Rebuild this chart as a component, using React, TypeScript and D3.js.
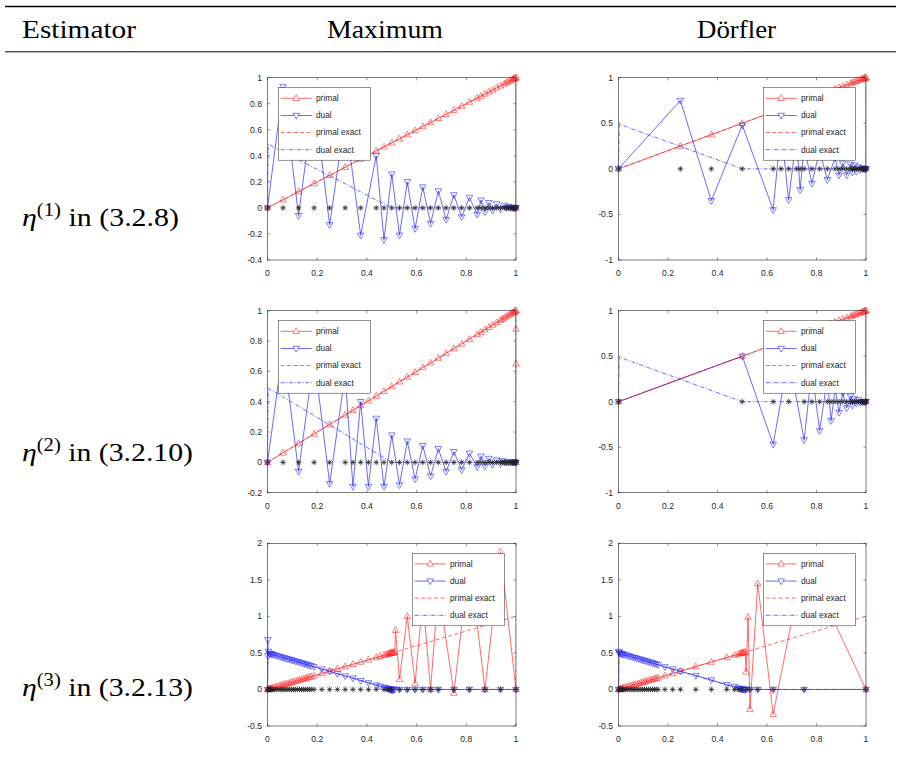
import React from 'react';
import * as d3 from 'd3';

// ---------------- data ----------------
const xTicks = [0, 0.2, 0.4, 0.6, 0.8, 1];
const yTicksA = [-0.4, -0.2, 0, 0.2, 0.4, 0.6, 0.8, 1];
const yTicksB = [-1, -0.5, 0, 0.5, 1];
const yTicksC = [-0.2, 0, 0.2, 0.4, 0.6, 0.8, 1];
const yTicksE = [-0.5, 0, 0.5, 1, 1.5, 2];

const headers = ['Estimator', 'Maximum', 'Dörfler'];
const rowSup = ['(1)', '(2)', '(3)'];
const rowRef = [' in (3.2.8)', ' in (3.2.10)', ' in (3.2.13)'];
const legendLabels = ['primal', 'dual', 'primal exact', 'dual exact'];

const primalExactX = [0, 1, 1];
const primalExactY = [0, 1, 0];
const dualExactX = [0, 0.003, 0.5, 1];
const dualExactY = [0, 0.49, 0, 1e-9];

// Panel A: Maximum, eta(1)
const meshA = [0, 0.0625, 0.125, 0.1875, 0.25, 0.3125, 0.375, 0.4375, 0.46875, 0.5, 0.53125, 0.5625, 0.59375, 0.625, 0.65625, 0.6875, 0.71875, 0.75, 0.78125, 0.8125, 0.84375, 0.859, 0.875, 0.891, 0.906, 0.922, 0.9375, 0.953, 0.961, 0.969, 0.977, 0.984, 0.988, 0.992, 0.996, 0.998, 1];
const primalAx = [0, 0.0625, 0.125, 0.1875, 0.25, 0.3125, 0.375, 0.4375, 0.46875, 0.5, 0.53125, 0.5625, 0.59375, 0.625, 0.65625, 0.6875, 0.71875, 0.75, 0.78125, 0.8125, 0.84375, 0.859, 0.875, 0.891, 0.906, 0.922, 0.9375, 0.953, 0.961, 0.969, 0.977, 0.984, 0.988, 0.992, 0.996, 0.998, 1, 1];
const primalAy = [0, 0.0625, 0.125, 0.1875, 0.25, 0.3125, 0.375, 0.4375, 0.46875, 0.5, 0.53125, 0.5625, 0.59375, 0.625, 0.65625, 0.6875, 0.71875, 0.75, 0.78125, 0.8125, 0.84375, 0.859, 0.875, 0.891, 0.906, 0.922, 0.9375, 0.953, 0.961, 0.969, 0.977, 0.984, 0.988, 0.992, 0.996, 0.998, 1, 0];
const dualAy = [0, 0.93, -0.06, 0.85, -0.13, 0.7, -0.21, 0.4, -0.245, 0.26, -0.21, 0.2, -0.16, 0.16, -0.12, 0.13, -0.09, 0.1, -0.07, 0.08, -0.05, 0.06, -0.03, 0.04, -0.02, 0.03, -0.01, 0.02, 0, 0.01, 0, 0.005, 0, 0, 0, 0, 0];

// Panel B: Dörfler, eta(1)
const meshB = [0, 0.25, 0.375, 0.5, 0.625, 0.65625, 0.6875, 0.71875, 0.734, 0.75, 0.78125, 0.8125, 0.84375, 0.875, 0.891, 0.906, 0.922, 0.9375, 0.945, 0.953, 0.961, 0.969, 0.977, 0.984, 0.988, 0.992, 0.996, 0.998, 1];
const primalBx = [0, 0.25, 0.375, 0.5, 0.625, 0.65625, 0.6875, 0.71875, 0.734, 0.75, 0.78125, 0.8125, 0.84375, 0.875, 0.891, 0.906, 0.922, 0.9375, 0.945, 0.953, 0.961, 0.969, 0.977, 0.984, 0.988, 0.992, 0.996, 0.998, 1, 1];
const primalBy = [0, 0.25, 0.375, 0.5, 0.625, 0.65625, 0.6875, 0.71875, 0.734, 0.75, 0.78125, 0.8125, 0.84375, 0.875, 0.891, 0.906, 0.922, 0.9375, 0.945, 0.953, 0.961, 0.969, 0.977, 0.984, 0.988, 0.992, 0.996, 0.998, 1, 0];
const dualBy = [0, 0.75, -0.35, 0.48, -0.45, 0.45, -0.34, 0.35, -0.23, 0.25, -0.16, 0.2, -0.12, 0.12, -0.07, 0.06, -0.07, 0.05, -0.04, 0.04, -0.03, 0.02, -0.01, 0.01, 0, 0, 0, 0, 0];

// Panel C: Maximum, eta(2)
const meshC = [0, 0.0625, 0.125, 0.1875, 0.25, 0.3125, 0.34375, 0.375, 0.40625, 0.4375, 0.46875, 0.5, 0.53125, 0.5625, 0.59375, 0.625, 0.65625, 0.6875, 0.71875, 0.75, 0.78125, 0.8125, 0.84375, 0.859, 0.875, 0.891, 0.906, 0.922, 0.9375, 0.945, 0.953, 0.961, 0.969, 0.977, 0.984, 0.988, 0.992, 0.996, 0.998, 1];
const primalCx = [0, 0.0625, 0.125, 0.1875, 0.25, 0.3125, 0.34375, 0.375, 0.40625, 0.4375, 0.46875, 0.5, 0.53125, 0.5625, 0.59375, 0.625, 0.65625, 0.6875, 0.71875, 0.75, 0.78125, 0.8125, 0.84375, 0.859, 0.875, 0.891, 0.906, 0.922, 0.9375, 0.945, 0.953, 0.961, 0.969, 0.977, 0.984, 0.988, 0.992, 0.996, 0.998, 1, 1, 1, 1];
const primalCy = [0, 0.0625, 0.125, 0.1875, 0.25, 0.3125, 0.34375, 0.375, 0.40625, 0.4375, 0.46875, 0.5, 0.53125, 0.5625, 0.59375, 0.625, 0.65625, 0.6875, 0.71875, 0.75, 0.78125, 0.8125, 0.84375, 0.859, 0.875, 0.891, 0.906, 0.922, 0.9375, 0.945, 0.953, 0.961, 0.969, 0.977, 0.984, 0.988, 0.992, 0.996, 0.998, 1, 0.88, 0.65, 0];
const dualCy = [0, 0.75, -0.06, 0.7, -0.14, 0.58, -0.16, 0.4, -0.16, 0.29, -0.16, 0.18, -0.15, 0.14, -0.11, 0.11, -0.09, 0.09, -0.06, 0.07, -0.05, 0.06, -0.03, 0.04, -0.025, 0.025, -0.015, 0.015, -0.01, 0.01, 0, 0, 0, 0, 0, 0, 0, 0, 0, 0];

// Panel D: Dörfler, eta(2)
const meshD = [0, 0.5, 0.625, 0.6875, 0.75, 0.78125, 0.8125, 0.84375, 0.859, 0.875, 0.891, 0.906, 0.922, 0.9375, 0.945, 0.953, 0.961, 0.969, 0.977, 0.984, 0.988, 0.992, 0.996, 0.998, 1];
const primalDx = [0, 0.5, 0.625, 0.6875, 0.75, 0.78125, 0.8125, 0.84375, 0.859, 0.875, 0.891, 0.906, 0.922, 0.9375, 0.945, 0.953, 0.961, 0.969, 0.977, 0.984, 0.988, 0.992, 0.996, 0.998, 1, 1];
const primalDy = [0, 0.5, 0.625, 0.6875, 0.75, 0.78125, 0.8125, 0.84375, 0.859, 0.875, 0.891, 0.906, 0.922, 0.9375, 0.945, 0.953, 0.961, 0.969, 0.977, 0.984, 0.988, 0.992, 0.996, 0.998, 1, 0];
const dualDy = [0, 0.5, -0.47, 0.5, -0.42, 0.35, -0.32, 0.25, -0.21, 0.15, -0.12, 0.1, -0.07, 0.06, -0.04, 0.03, -0.02, 0.02, -0.01, 0, 0, 0, 0, 0, 0];

// Panel E: Maximum, eta(3)
const meshE = [0.002, 0.004, 0.008, 0.012, 0.016, 0.02, 0.027, 0.035, 0.043, 0.051, 0.059, 0.066, 0.074, 0.082, 0.09, 0.098, 0.105, 0.113, 0.121, 0.129, 0.137, 0.145, 0.152, 0.16, 0.168, 0.176, 0.1875, 0.21875, 0.25, 0.28125, 0.3125, 0.34375, 0.375, 0.40625, 0.4375, 0.46875, 0.484, 0.492, 0.5, 0.53125, 0.5625, 0.59375, 0.625, 0.65625, 0.6875, 0.75, 0.8125, 0.875, 0.9375, 1];
const primalEx = [0, 0.002, 0.004, 0.008, 0.012, 0.016, 0.02, 0.027, 0.035, 0.043, 0.051, 0.059, 0.066, 0.074, 0.082, 0.09, 0.098, 0.105, 0.113, 0.121, 0.129, 0.137, 0.145, 0.152, 0.16, 0.168, 0.176, 0.1875, 0.21875, 0.25, 0.28125, 0.3125, 0.34375, 0.375, 0.40625, 0.4375, 0.453, 0.46875, 0.477, 0.484, 0.488, 0.492, 0.496, 0.498, 0.5, 0.502, 0.504, 0.508, 0.512, 0.515, 0.53125, 0.5625, 0.59375, 0.625, 0.65625, 0.6875, 0.75, 0.8125, 0.875, 0.9375, 1];
const primalEy = [0, 0.002, 0.004, 0.008, 0.012, 0.016, 0.02, 0.027, 0.035, 0.043, 0.051, 0.059, 0.066, 0.074, 0.082, 0.09, 0.098, 0.105, 0.113, 0.121, 0.129, 0.137, 0.145, 0.152, 0.16, 0.168, 0.176, 0.1875, 0.21875, 0.25, 0.28125, 0.3125, 0.34375, 0.375, 0.40625, 0.4375, 0.453, 0.46875, 0.477, 0.484, 0.488, 0.492, 0.496, 0.498, 0.5, 0.502, 0.504, 0.508, 0.512, 0.81, 0.14, 1.0, 0.08, 1.25, 0, 1.4, -0.05, 1.8, 0, 1.88, 0];
const dualEx = [0, 0.001, 0.002, 0.004, 0.008, 0.012, 0.016, 0.02, 0.027, 0.035, 0.043, 0.051, 0.059, 0.066, 0.074, 0.082, 0.09, 0.098, 0.105, 0.113, 0.121, 0.129, 0.137, 0.145, 0.152, 0.16, 0.168, 0.176, 0.1875, 0.21875, 0.25, 0.28125, 0.3125, 0.34375, 0.375, 0.40625, 0.4375, 0.453, 0.46875, 0.477, 0.484, 0.488, 0.492, 0.496, 0.498, 0.5, 0.502, 0.504, 0.508, 0.512, 0.53125, 0.5625, 0.59375, 0.625, 0.65625, 0.6875, 0.75, 0.8125, 0.875, 0.9375, 1];
const dualEy = [0, 0.68, 0.46, 0.52, 0.49, 0.49, 0.485, 0.48, 0.473, 0.465, 0.457, 0.449, 0.441, 0.434, 0.426, 0.418, 0.41, 0.402, 0.395, 0.387, 0.379, 0.371, 0.363, 0.355, 0.348, 0.34, 0.332, 0.324, 0.31, 0.28, 0.25, 0.215, 0.185, 0.155, 0.12, 0.09, 0.06, 0.045, 0.03, 0.02, 0.012, 0.008, 0.004, 0.002, 0, -0.01, -0.01, 0, 0, 0, 0, 0, 0, 0, 0, 0, 0, 0, 0, 0, 0];

// Panel F: Dörfler, eta(3)
const meshF = [0.002, 0.004, 0.008, 0.012, 0.016, 0.02, 0.027, 0.035, 0.043, 0.051, 0.059, 0.066, 0.074, 0.082, 0.09, 0.098, 0.105, 0.113, 0.121, 0.129, 0.137, 0.145, 0.152, 0.16, 0.1875, 0.21875, 0.25, 0.3125, 0.375, 0.4375, 0.46875, 0.484, 0.492, 0.5, 0.5156, 0.53125, 0.5625, 0.625, 0.75, 1];
const primalFx = [0, 0.002, 0.004, 0.008, 0.012, 0.016, 0.02, 0.027, 0.035, 0.043, 0.051, 0.059, 0.066, 0.074, 0.082, 0.09, 0.098, 0.105, 0.113, 0.121, 0.129, 0.137, 0.145, 0.152, 0.16, 0.1875, 0.21875, 0.25, 0.3125, 0.375, 0.4375, 0.46875, 0.484, 0.492, 0.496, 0.5, 0.504, 0.508, 0.512, 0.5156, 0.5234, 0.53125, 0.5625, 0.625, 0.75, 1];
const primalFy = [0, 0.002, 0.004, 0.008, 0.012, 0.016, 0.02, 0.027, 0.035, 0.043, 0.051, 0.059, 0.066, 0.074, 0.082, 0.09, 0.098, 0.105, 0.113, 0.121, 0.129, 0.137, 0.145, 0.152, 0.16, 0.1875, 0.21875, 0.25, 0.3125, 0.375, 0.4375, 0.46875, 0.484, 0.492, 0.496, 0.5, 0.504, 0.508, 0.512, 0.24, 0.99, -0.27, 1.45, -0.34, 1.8, 0];
const dualFx = [0, 0.001, 0.002, 0.004, 0.008, 0.012, 0.016, 0.02, 0.027, 0.035, 0.043, 0.051, 0.059, 0.066, 0.074, 0.082, 0.09, 0.098, 0.105, 0.113, 0.121, 0.129, 0.137, 0.145, 0.152, 0.16, 0.1875, 0.21875, 0.25, 0.3125, 0.375, 0.4375, 0.46875, 0.484, 0.492, 0.496, 0.5, 0.504, 0.508, 0.512, 0.5156, 0.53125, 0.5625, 0.625, 0.75, 1];
const dualFy = [0, 0.52, 0.5, 0.5, 0.49, 0.488, 0.484, 0.48, 0.473, 0.465, 0.457, 0.449, 0.441, 0.434, 0.426, 0.418, 0.41, 0.402, 0.395, 0.387, 0.379, 0.371, 0.363, 0.355, 0.348, 0.34, 0.31, 0.28, 0.25, 0.19, 0.13, 0.065, 0.04, 0.02, 0.01, 0.005, 0, 0, 0, 0, 0, 0, 0, 0, 0, 0];

// ---------------- layout ----------------
const AXIS = '#262626';
const RED = '#ff2a2a';
const BLUE = '#2a2aff';
const SANS = "'Liberation Sans', Arial, Helvetica, sans-serif";
const SERIF = "'Liberation Serif', 'DejaVu Serif', serif";

const COLS = [
  { left: 267.5, right: 516 },
  { left: 618.5, right: 866 },
];
const ROWS = [
  { top: 77.7, bottom: 260 },
  { top: 310.7, bottom: 492.7 },
  { top: 543.3, bottom: 726 },
];

type Panel = {
  id: string; col: number; row: number; yDomain: [number, number]; yTicks: number[];
  legend: [number, number];
  mesh: number[]; px: number[]; py: number[]; dx: number[]; dy: number[];
};

const panels: Panel[] = [
  { id: 'A', col: 0, row: 0, yDomain: [-0.4, 1], yTicks: yTicksA, legend: [278.3, 87.7], mesh: meshA, px: primalAx, py: primalAy, dx: meshA, dy: dualAy },
  { id: 'B', col: 1, row: 0, yDomain: [-1, 1], yTicks: yTicksB, legend: [763.3, 87.7], mesh: meshB, px: primalBx, py: primalBy, dx: meshB, dy: dualBy },
  { id: 'C', col: 0, row: 1, yDomain: [-0.2, 1], yTicks: yTicksC, legend: [278.3, 320.7], mesh: meshC, px: primalCx, py: primalCy, dx: meshC, dy: dualCy },
  { id: 'D', col: 1, row: 1, yDomain: [-1, 1], yTicks: yTicksB, legend: [763.3, 320.7], mesh: meshD, px: primalDx, py: primalDy, dx: meshD, dy: dualDy },
  { id: 'E', col: 0, row: 2, yDomain: [-0.5, 2], yTicks: yTicksE, legend: [412.3, 553.3], mesh: meshE, px: primalEx, py: primalEy, dx: dualEx, dy: dualEy },
  { id: 'F', col: 1, row: 2, yDomain: [-0.5, 2], yTicks: yTicksE, legend: [763.3, 553.3], mesh: meshF, px: primalFx, py: primalFy, dx: dualFx, dy: dualFy },
];

const TRI_UP = 'M0,-3.6L3.3,2.2L-3.3,2.2Z';
const TRI_DN = 'M0,3.6L3.3,-2.2L-3.3,-2.2Z';
const STAR = 'M-2.8,0H2.8M0,-2.8V2.8M-2,-2L2,2M-2,2L2,-2';

const fmt = (v: number) => String(+v.toFixed(1));

function PlotPanel({ p }: { p: Panel }) {
  const { left, right } = COLS[p.col];
  const { top, bottom } = ROWS[p.row];
  const sx = d3.scaleLinear().domain([0, 1]).range([left, right]);
  const sy = d3.scaleLinear().domain(p.yDomain).range([bottom, top]);
  const line = d3.line<[number, number]>().x((d) => sx(d[0])).y((d) => sy(d[1]));
  const primal = d3.zip(p.px, p.py) as [number, number][];
  const dual = d3.zip(p.dx, p.dy) as [number, number][];
  const pex = d3.zip(primalExactX, primalExactY) as [number, number][];
  const dex = d3.zip(dualExactX, dualExactY) as [number, number][];
  const clipId = 'clip' + p.id;
  const tl = 2.6;
  const [lx, ly] = p.legend;
  const rowsY = [10.6, 27.8, 44.8, 62];
  return (
    <g>
      <defs>
        <clipPath id={clipId}>
          <rect x={left - 4} y={top - 4} width={right - left + 8} height={bottom - top + 8} />
        </clipPath>
        <clipPath id={clipId + 'i'}>
          <rect x={left} y={top} width={right - left} height={bottom - top} />
        </clipPath>
      </defs>
      <rect x={left} y={top} width={right - left} height={bottom - top} fill="#fff" />
      {xTicks.map((t) => (
        <g key={'x' + t}>
          <line x1={sx(t)} x2={sx(t)} y1={bottom} y2={bottom - tl} stroke={AXIS} strokeWidth={0.5} />
          <line x1={sx(t)} x2={sx(t)} y1={top} y2={top + tl} stroke={AXIS} strokeWidth={0.5} />
          <text x={sx(t)} y={bottom + 16} textAnchor="middle" fontFamily={SANS} fontSize={8.6} fill={AXIS}>{fmt(t)}</text>
        </g>
      ))}
      {p.yTicks.map((t) => (
        <g key={'y' + t}>
          <line x1={left} x2={left + tl} y1={sy(t)} y2={sy(t)} stroke={AXIS} strokeWidth={0.5} />
          <line x1={right} x2={right - tl} y1={sy(t)} y2={sy(t)} stroke={AXIS} strokeWidth={0.5} />
          <text x={left - 5.5} y={sy(t)} dy="0.35em" textAnchor="end" fontFamily={SANS} fontSize={8.6} fill={AXIS}>{fmt(t)}</text>
        </g>
      ))}
      <g clipPath={`url(#${clipId})`}>
        <g clipPath={`url(#${clipId}i)`}>
          <path d={line(primal) || ''} fill="none" stroke={RED} strokeWidth={0.7} />
        </g>
        {primal.map((d, i) => (
          <path key={'pm' + i} d={TRI_UP} transform={`translate(${sx(d[0])},${sy(d[1])})`} fill="none" stroke={RED} strokeWidth={0.6} />
        ))}
        <g clipPath={`url(#${clipId}i)`}>
          <path d={line(dual) || ''} fill="none" stroke={BLUE} strokeWidth={0.7} />
        </g>
        {dual.map((d, i) => (
          <path key={'dm' + i} d={TRI_DN} transform={`translate(${sx(d[0])},${sy(d[1])})`} fill="none" stroke={BLUE} strokeWidth={0.6} />
        ))}
        <g clipPath={`url(#${clipId}i)`}>
          <path d={line(pex) || ''} fill="none" stroke={RED} strokeWidth={0.7} strokeDasharray="4,2.5" />
          <path d={line(dex) || ''} fill="none" stroke={BLUE} strokeWidth={0.7} strokeDasharray="4,1.6,1,1.6" />
        </g>
        {p.mesh.map((m, i) => (
          <path key={'st' + i} d={STAR} transform={`translate(${sx(m)},${sy(0)})`} fill="none" stroke="#222" strokeWidth={0.75} />
        ))}
      </g>
      <rect x={left} y={top} width={right - left} height={bottom - top} fill="none" stroke={AXIS} strokeWidth={0.6} />
      <g>
        <rect x={lx} y={ly} width={92} height={72.5} fill="#fff" stroke={AXIS} strokeWidth={0.5} />
        {legendLabels.map((lab, i) => {
          const yy = ly + rowsY[i];
          const col = i % 2 === 0 ? RED : BLUE;
          const dash = i === 2 ? '4,2.5' : i === 3 ? '4,1.6,1,1.6' : undefined;
          return (
            <g key={lab}>
              <line x1={lx + 2.4} x2={lx + 33.4} y1={yy} y2={yy} stroke={col} strokeWidth={0.7} strokeDasharray={dash} />
              {i < 2 && (
                <path d={i === 0 ? TRI_UP : TRI_DN} transform={`translate(${lx + 17.9},${yy})`} fill="#fff" stroke={col} strokeWidth={0.6} />
              )}
              <text x={lx + 37.7} y={yy} dy="0.35em" fontFamily={SANS} fontSize={8.3} fill={AXIS}>{lab}</text>
            </g>
          );
        })}
      </g>
    </g>
  );
}

export default function App() {
  const headerX = [22, 327, 697];
  const headerW = [114, 116, 79];
  const rowBase = [226, 461, 696];
  const rowW = [157, 171, 171];
  return (
    <svg width={901} height={761} viewBox="0 0 901 761" style={{ position: 'absolute', left: 0, top: 0, background: '#fff' }}>
      <rect x={0} y={0} width={901} height={761} fill="#fff" />
      <line x1={5} x2={896} y1={6.5} y2={6.5} stroke="#000" strokeWidth={1.6} />
      <line x1={5} x2={896} y1={51.8} y2={51.8} stroke="#000" strokeWidth={1} />
      {headers.map((h, i) => (
        <text key={h} x={headerX[i]} y={38} style={{ fontFamily: SERIF }} fontSize={26} fill="#000" textLength={headerW[i]} lengthAdjust="spacingAndGlyphs">{h}</text>
      ))}
      {rowSup.map((s, i) => (
        <text key={s} x={22} y={rowBase[i]} style={{ fontFamily: SERIF }} fontSize={26} fill="#000" textLength={rowW[i]} lengthAdjust="spacingAndGlyphs">
          <tspan fontStyle="italic">η</tspan>
          <tspan fontSize={18} dy={-10.5}>{s}</tspan>
          <tspan dy={10.5}>{rowRef[i]}</tspan>
        </text>
      ))}
      {panels.map((p) => <PlotPanel key={p.id} p={p} />)}
    </svg>
  );
}
